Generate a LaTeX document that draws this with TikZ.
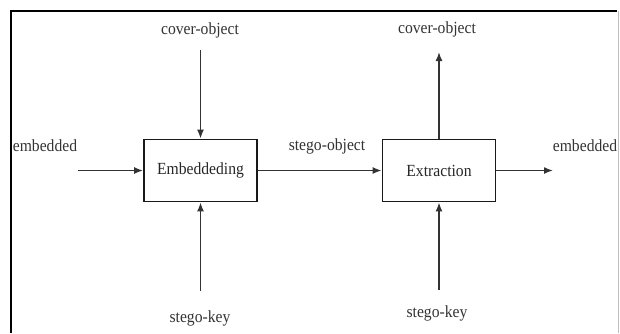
\documentclass[tikz,border=0pt]{standalone}
\usepackage{fontspec}
\setmainfont{Liberation Serif}[FakeStretch=0.92]
\usetikzlibrary{arrows.meta}
\begin{document}
\begin{tikzpicture}[x=1pt,y=-1pt,
  blk/.style={draw=black!90,line width=1.8pt,minimum width=113pt,minimum height=62pt,inner sep=0pt,font=\fontsize{17}{19}\selectfont,text=black!85},
  lbl/.style={inner sep=0pt,font=\fontsize{17}{19}\selectfont,text=black!80},
  arr/.style={draw=black!80,line width=1.5pt,-{Latex[length=9pt,width=7pt]}}]
\useasboundingbox (0,0) rectangle (620,333);
% frame
\draw[line width=2pt] (11,333) -- (11,11) -- (617,11);
\draw[black!25,line width=1pt] (618,11) -- (618,333);
% blocks
\node[blk] (emb) at (200.5,170.5) {Embeddeding};
\node[blk] (ext) at (439,170.5) {Extraction};
% labels
\node[lbl] (cov1) at (200,30) {cover-object};
\node[lbl] (cov2) at (437,29) {cover-object};
\node[lbl] (in) at (45,146) {embedded};
\node[lbl] (so) at (327,146) {stego-object};
\node[lbl] (out) at (585,146) {embedded};
\node[lbl] (key1) at (200,318) {stego-key};
\node[lbl] (key2) at (437,313) {stego-key};
% free ends
\coordinate (c1) at (200.5,50);
\coordinate (c2) at (439,52);
\coordinate (i1) at (78,170.5);
\coordinate (o1) at (553,170.5);
\coordinate (k1) at (200.5,291);
\coordinate (k2) at (439,290);
% connectors
\draw[arr] (c1) -- (emb.north);
\draw[arr] (ext.north) -- (c2);
\draw[arr] (i1) -- (emb.west);
\draw[arr] (emb.east) -- (ext.west);
\draw[arr] (ext.east) -- (o1);
\draw[arr] (k1) -- (emb.south);
\draw[arr] (k2) -- (ext.south);
\end{tikzpicture}
\end{document}
